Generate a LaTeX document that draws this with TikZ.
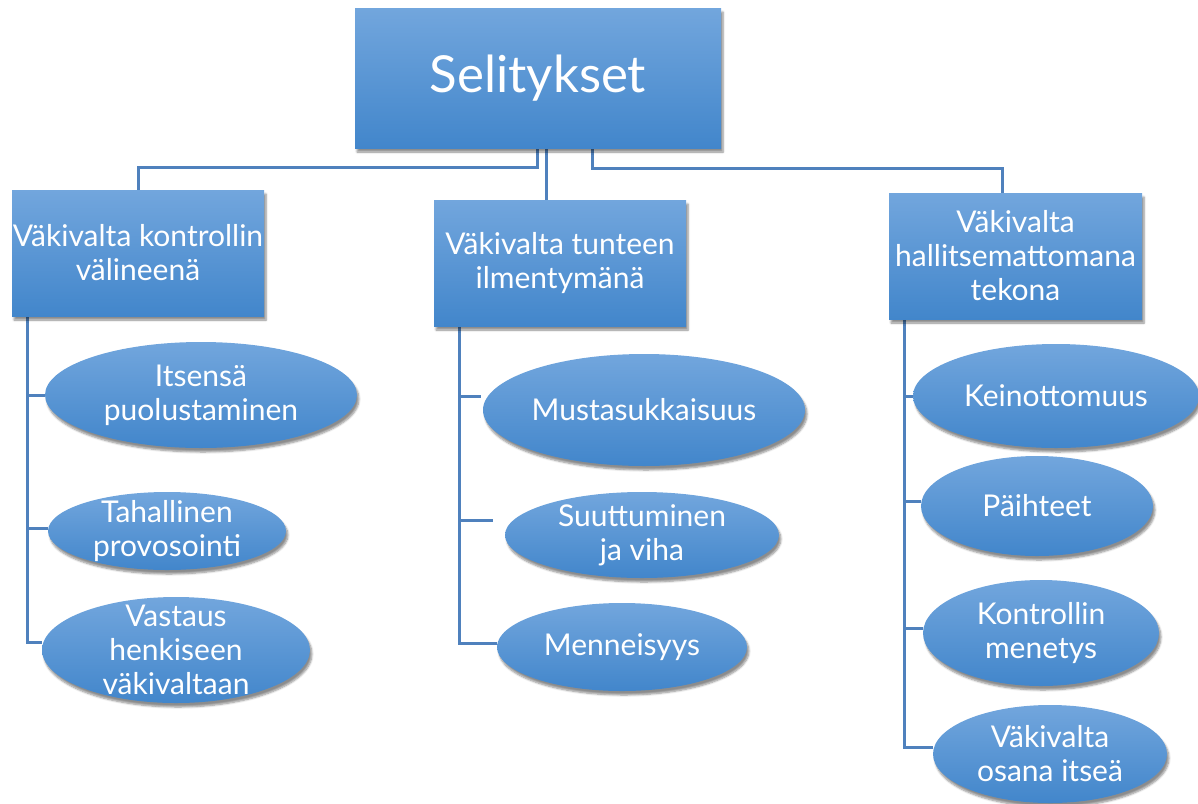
\documentclass[tikz,border=0pt]{standalone}
\usepackage{fontspec}
\setmainfont{Lato}
\usetikzlibrary{shapes.geometric,shadows.blur,backgrounds}
\definecolor{boxtop}{RGB}{114,166,221}
\definecolor{boxbot}{RGB}{66,134,203}
\definecolor{linec}{RGB}{79,129,189}
\tikzset{
  base/.style={draw=none, top color=boxtop, bottom color=boxbot, text=white,
    align=center, inner sep=0pt, font=\fontsize{30}{34}\selectfont,
    blur shadow={shadow xshift=2pt, shadow yshift=-4pt, shadow blur steps=6, shadow opacity=45}},
  rbox/.style={base, rectangle},
  oval/.style={base, ellipse},
  lbl/.style={text=white, align=center, inner sep=0pt, font=\fontsize{30}{34}\selectfont},
  conn/.style={draw=linec, line width=3pt},
}
\begin{document}
\begin{tikzpicture}[x=1pt,y=-1pt]
\useasboundingbox (0,0) rectangle (1198,803);
% boxes
\node[rbox, minimum width=366pt, minimum height=140pt, font=\fontsize{51}{60}\selectfont] (top) at (538,78) {Selitykset};
\node[rbox, minimum width=252pt, minimum height=126pt] (L) at (138,253) {Väkivalta kontrollin\\välineenä};
\node[rbox, minimum width=252pt, minimum height=126pt] (M) at (560,263) {Väkivalta tunteen\\ilmentymänä};
\node[rbox, minimum width=253pt, minimum height=126pt] (R) at (1015.5,256) {Väkivalta\\hallitsemattomana\\tekona};
% ellipses
\node[oval, minimum width=312pt, minimum height=106pt, label={[lbl]center:{Itsensä\\puolustaminen}}] (L1) at (201,395) {};
\node[oval, minimum width=238pt, minimum height=78pt, label={[lbl]center:{Tahallinen\\provosointi}}] (L2) at (167,531) {};
\node[oval, minimum width=268pt, minimum height=106pt, label={[lbl]center:{Vastaus\\henkiseen\\väkivaltaan}}] (L3) at (176,650) {};
\node[oval, minimum width=322pt, minimum height=112pt, label={[lbl]center:{Mustasukkaisuus}}] (M1) at (644,410) {};
\node[oval, minimum width=274pt, minimum height=86pt, label={[lbl]center:{Suuttuminen\\ja viha}}] (M2) at (642,535) {};
\node[oval, minimum width=250pt, minimum height=88pt, label={[lbl]center:{Menneisyys}}] (M3) at (622,647) {};
\node[oval, minimum width=286pt, minimum height=104pt, label={[lbl]center:{Keinottomuus}}] (R1) at (1056,396) {};
\node[oval, minimum width=232pt, minimum height=100pt, label={[lbl]center:{Päihteet}}] (R2) at (1037,506) {};
\node[oval, minimum width=236pt, minimum height=106pt, label={[lbl]center:{Kontrollin\\menetys}}] (R3) at (1041,633) {};
\node[oval, minimum width=234pt, minimum height=98pt, label={[lbl]center:{Väkivalta\\osana itseä}}] (R4) at (1050,754) {};
% connectors
\begin{scope}[on background layer]
\draw[conn] ([xshift=-1pt]top.south) -- ++(0,19) -| (L.north);
\draw[conn] ([xshift=8pt]top.south) coordinate (tm) -- (tm |- M.north);
\draw[conn] ([xshift=54pt]top.south) -- ++(0,20) -| ([xshift=-13.5pt]R.north);
\coordinate (Lt) at ([xshift=16pt]L.south west);
\draw[conn] (Lt) |- ([yshift=8pt]L3.west);
\draw[conn] (Lt |- L1.west) -- (L1.west);
\draw[conn] ([yshift=3pt]Lt |- L2.west) -- ([yshift=3pt]L2.west);
\coordinate (Mt) at ([xshift=26pt]M.south west);
\draw[conn] (Mt) |- ([yshift=4pt]M3.west);
\draw[conn] ([yshift=14pt]Mt |- M1.center) -- ++(21,0);
\draw[conn] ([yshift=15pt]Mt |- M2.center) -- ++(33,0);
\coordinate (Rt) at ([xshift=16pt]R.south west);
\draw[conn] (Rt) |- ([yshift=7pt]R4.west);
\draw[conn] (Rt |- R1.west) -- (R1.west);
\draw[conn] ([yshift=5pt]Rt |- R2.west) -- ([yshift=5pt]R2.west);
\draw[conn] ([yshift=5pt]Rt |- R3.west) -- ([yshift=5pt]R3.west);
\end{scope}
\end{tikzpicture}
\end{document}
